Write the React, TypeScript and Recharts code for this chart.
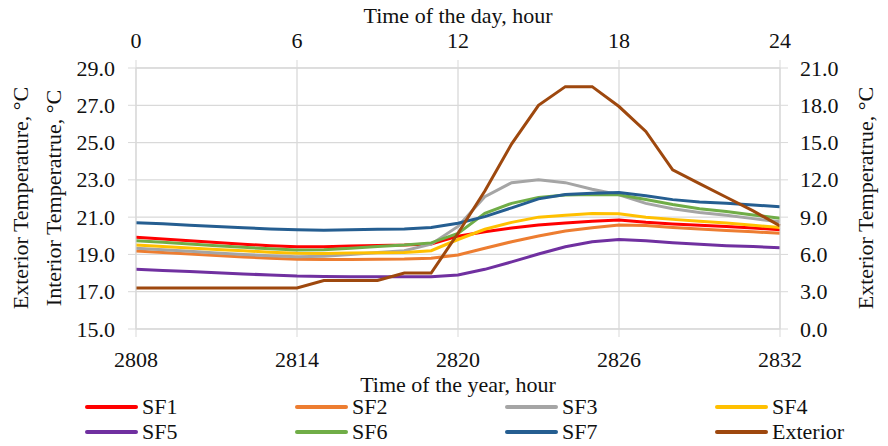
import { LineChart, Line, XAxis, YAxis, CartesianGrid } from "recharts";

// hour of the year, one reading per hour
const HOURS = [
  2808, 2809, 2810, 2811, 2812, 2813, 2814, 2815, 2816, 2817, 2818, 2819, 2820,
  2821, 2822, 2823, 2824, 2825, 2826, 2827, 2828, 2829, 2830, 2831, 2832,
];

// interior temperatures, °C
const SF1 = [19.92, 19.83, 19.73, 19.64, 19.55, 19.47, 19.41, 19.41, 19.45, 19.48, 19.5, 19.56, 19.98, 20.22, 20.42, 20.58, 20.68, 20.78, 20.85, 20.72, 20.63, 20.56, 20.5, 20.42, 20.33];
const SF2 = [19.18, 19.1, 19.02, 18.94, 18.86, 18.8, 18.74, 18.73, 18.73, 18.74, 18.75, 18.8, 18.97, 19.33, 19.68, 19.99, 20.26, 20.43, 20.58, 20.55, 20.45, 20.37, 20.29, 20.21, 20.13];
const SF3 = [19.33, 19.25, 19.17, 19.08, 19.0, 18.93, 18.88, 18.9, 19.0, 19.1, 19.2, 19.55, 20.5, 22.1, 22.85, 23.0, 22.85, 22.5, 22.2, 21.74, 21.45, 21.25, 21.1, 20.92, 20.75];
const SF4 = [19.5, 19.43, 19.35, 19.27, 19.2, 19.12, 19.06, 19.05, 19.07, 19.09, 19.1, 19.2, 19.8, 20.35, 20.72, 21.0, 21.1, 21.2, 21.18, 21.0, 20.88, 20.78, 20.68, 20.56, 20.45];
const SF5 = [18.2, 18.14, 18.08, 18.02, 17.95, 17.9, 17.84, 17.82, 17.8, 17.8, 17.8, 17.8, 17.9, 18.2, 18.6, 19.02, 19.41, 19.68, 19.8, 19.73, 19.63, 19.55, 19.47, 19.42, 19.36];
const SF6 = [19.74, 19.65, 19.56, 19.47, 19.38, 19.3, 19.24, 19.25, 19.33, 19.42, 19.5, 19.62, 20.13, 21.2, 21.74, 22.06, 22.19, 22.22, 22.2, 21.95, 21.68, 21.45, 21.3, 21.12, 20.94];
const SF7 = [20.7, 20.64, 20.57, 20.5, 20.43, 20.37, 20.32, 20.3, 20.33, 20.35, 20.36, 20.45, 20.67, 21.03, 21.5, 21.98, 22.22, 22.28, 22.32, 22.15, 21.94, 21.81, 21.74, 21.65, 21.56];

// exterior temperature, °C (right axis)
const EXTERIOR = [3.3, 3.3, 3.3, 3.3, 3.3, 3.3, 3.3, 3.9, 3.9, 3.9, 4.5, 4.5, 7.7, 11.1, 14.9, 18.0, 19.5, 19.5, 17.9, 15.9, 12.8, 11.7, 10.6, 9.5, 8.3];

const YEAR_TICKS = [2808, 2814, 2820, 2826, 2832];
const DAY_TICKS = [0, 6, 12, 18, 24];
const INTERIOR_TICKS = [15, 17, 19, 21, 23, 25, 27, 29];
const EXTERIOR_TICKS = [0, 3, 6, 9, 12, 15, 18, 21];

const SERIES = [
  { key: "SF1", values: SF1, color: "#ff0000" },
  { key: "SF2", values: SF2, color: "#ed7d31" },
  { key: "SF3", values: SF3, color: "#a5a5a5" },
  { key: "SF4", values: SF4, color: "#ffc000" },
  { key: "SF5", values: SF5, color: "#7030a0" },
  { key: "SF6", values: SF6, color: "#70ad47" },
  { key: "SF7", values: SF7, color: "#255e91" },
];
const EXTERIOR_COLOR = "#9e480e";

const data = HOURS.map((h, i) => {
  const row: Record<string, number> = { hour: h, day: h - HOURS[0], Exterior: EXTERIOR[i] };
  SERIES.forEach((s) => { row[s.key] = s.values[i]; });
  return row;
});

const FONT = '"Liberation Serif", "Times New Roman", serif';
const GRID = "#d9d9d9";
const INK = "#111";

// tick text drawn by hand so the serif face sticks
function makeTick(side: "left" | "right" | "top" | "bottom", decimals: number) {
  return (p: any) => {
    const label = Number(p.payload.value).toFixed(decimals);
    const anchor = side === "left" ? "end" : side === "right" ? "start" : "middle";
    const baseline = side === "left" || side === "right" ? "central" : side === "bottom" ? "hanging" : "auto";
    return (
      <text x={p.x} y={p.y} textAnchor={anchor} dominantBaseline={baseline} fontFamily={FONT} fontSize={22} fill={INK}>
        {label}
      </text>
    );
  };
}

const LEGEND_ITEMS = [
  ...SERIES.map((s) => ({ name: s.key, color: s.color })),
  { name: "Exterior", color: EXTERIOR_COLOR },
];

function LegendGrid() {
  return (
    <div style={{ position: "absolute", left: 85, top: 395, display: "grid", gridTemplateColumns: "repeat(4, 210px)", rowGap: 1 }}>
      {LEGEND_ITEMS.map((it) => (
        <div key={it.name} style={{ display: "flex", alignItems: "center", height: 24 }}>
          <span style={{ width: 53, height: 4, background: it.color, borderRadius: 2, marginRight: 4 }} />
          <span style={{ fontFamily: FONT, fontSize: 22, color: INK, lineHeight: "24px" }}>{it.name}</span>
        </div>
      ))}
    </div>
  );
}

const PLOT_MID_Y = 198;

export default function App() {
  return (
    <div style={{ position: "absolute", left: 0, top: 0, width: 888, height: 446, background: "#fff", fontFamily: FONT }}>
      <LineChart width={888} height={446} data={data} margin={{ top: 0, right: 0, bottom: 0, left: 0 }}>
        <CartesianGrid xAxisId="bottom" yAxisId="interior" stroke={GRID} strokeWidth={1.3} />
        <XAxis
          xAxisId="bottom"
          dataKey="hour"
          type="number"
          domain={[2808, 2832]}
          ticks={YEAR_TICKS}
          tick={makeTick("bottom", 0)}
          tickSize={8}
          tickMargin={14}
          stroke={GRID}
          height={117}
          label={() => (
            <text x={458} y={384} textAnchor="middle" dominantBaseline="central" fontFamily={FONT} fontSize={22} fill={INK}>
              Time of the year, hour
            </text>
          )}
        />
        <XAxis
          xAxisId="top"
          dataKey="day"
          orientation="top"
          type="number"
          domain={[0, 24]}
          ticks={DAY_TICKS}
          tick={makeTick("top", 0)}
          tickSize={8}
          tickMargin={12}
          stroke={GRID}
          height={68}
          label={() => (
            <text x={458} y={15} textAnchor="middle" dominantBaseline="central" fontFamily={FONT} fontSize={22} fill={INK}>
              Time of the day, hour
            </text>
          )}
        />
        <YAxis
          yAxisId="interior"
          orientation="left"
          domain={[15, 29]}
          ticks={INTERIOR_TICKS}
          tick={makeTick("left", 1)}
          tickSize={8}
          tickMargin={13}
          stroke={GRID}
          width={136}
          label={() => (
            <g fontFamily={FONT} fontSize={22} fill={INK}>
              <text x={20} y={PLOT_MID_Y} transform={`rotate(-90, 20, ${PLOT_MID_Y})`} textAnchor="middle" dominantBaseline="central">
                Exterior Temperature, °C
              </text>
              <text x={53} y={PLOT_MID_Y} transform={`rotate(-90, 53, ${PLOT_MID_Y})`} textAnchor="middle" dominantBaseline="central">
                Interior Temperatrue, °C
              </text>
            </g>
          )}
        />
        <YAxis
          yAxisId="exterior"
          orientation="right"
          domain={[0, 21]}
          ticks={EXTERIOR_TICKS}
          tick={makeTick("right", 1)}
          tickSize={8}
          tickMargin={12}
          stroke={GRID}
          width={108}
          label={() => (
            <text x={865} y={PLOT_MID_Y} transform={`rotate(-90, 865, ${PLOT_MID_Y})`} textAnchor="middle" dominantBaseline="central" fontFamily={FONT} fontSize={22} fill={INK}>
              Exterior Temperatrue, °C
            </text>
          )}
        />
        {SERIES.map((s) => (
          <Line
            key={s.key}
            xAxisId="bottom"
            yAxisId="interior"
            dataKey={s.key}
            type="linear"
            stroke={s.color}
            strokeWidth={3}
            dot={false}
            isAnimationActive={false}
          />
        ))}
        <Line
          xAxisId="bottom"
          yAxisId="exterior"
          dataKey="Exterior"
          type="linear"
          stroke={EXTERIOR_COLOR}
          strokeWidth={3}
          dot={false}
          isAnimationActive={false}
        />
      </LineChart>
      <LegendGrid />
    </div>
  );
}
